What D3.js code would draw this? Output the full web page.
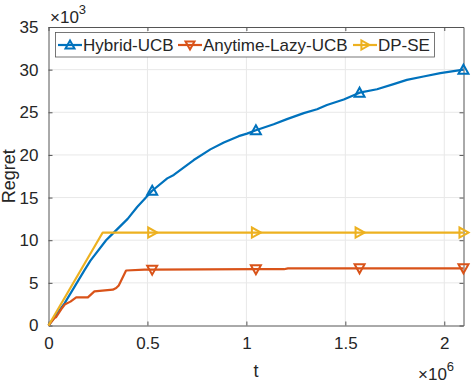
<!DOCTYPE html>
<meta charset="utf-8">
<script src="https://cdn.jsdelivr.net/npm/d3@7"></script>
<style>
  body { margin: 0; background: #fff; }
  text { font-family: "Liberation Sans", Arial, sans-serif; fill: #262626; }
</style>
<svg id="graph" width="472" height="382"></svg>
<script>

// t in units of 1e6, regret in units of 1e3
var tHybrid = [0, 0.081, 0.182, 0.212, 0.291, 0.317, 0.4, 0.448, 0.524, 0.6, 0.633, 0.734, 0.818, 0.886, 0.961, 1.003, 1.048, 1.138, 1.205, 1.29, 1.357, 1.407, 1.492, 1.572, 1.66, 1.744, 1.811, 1.895, 1.98, 2.097];
var rHybrid = [0, 2.6, 6.5, 7.6, 10.0, 10.6, 12.5, 13.9, 15.8, 17.25, 17.65, 19.4, 20.65, 21.45, 22.2, 22.5, 22.9, 23.6, 24.2, 24.9, 25.35, 25.85, 26.5, 27.3, 27.7, 28.3, 28.8, 29.2, 29.6, 30.0];

var tLazy = [0, 0.03, 0.039, 0.064, 0.084, 0.111, 0.14, 0.199, 0.232, 0.325, 0.342, 0.355, 0.392, 0.485, 0.524, 1.048, 1.19, 1.21, 1.572, 2.097];
var rLazy = [0, 0.86, 1.0, 1.9, 2.5, 2.8, 3.3, 3.3, 4.0, 4.2, 4.4, 4.7, 6.45, 6.55, 6.55, 6.6, 6.6, 6.7, 6.7, 6.7];

var tDPSE = [0, 0.274, 0.524, 1.048, 1.572, 2.097];
var rDPSE = [0, 10.9, 10.9, 10.9, 10.9, 10.9];

var markerT = [0.524, 1.048, 1.572, 2.097];

var names = ["Hybrid-UCB", "Anytime-Lazy-UCB", "DP-SE"];
var colors = ["#0072BD", "#D95319", "#EDB120"];
var shapes = ["up", "down", "right"];

var xTicks = [0, 0.5, 1, 1.5, 2];
var yTicks = [0, 5, 10, 15, 20, 25, 30, 35];

var series = [
  {name: names[0], t: tHybrid, r: rHybrid},
  {name: names[1], t: tLazy, r: rLazy},
  {name: names[2], t: tDPSE, r: rDPSE}
];

var svg = d3.select("#graph");
var pL = 48.5, pR = 463.5, pT = 27, pB = 325.5;

var x = d3.scaleLinear().domain([0, 2.097152]).range([pL, pR]);
var y = d3.scaleLinear().domain([0, 35]).range([pB, pT]);

// grid
svg.append("g").selectAll("line").data(xTicks.slice(1)).enter().append("line")
  .attr("x1", function(d) { return x(d); }).attr("x2", function(d) { return x(d); })
  .attr("y1", pT).attr("y2", pB)
  .attr("stroke", "#e8e8e8").attr("stroke-width", 1);
svg.append("g").selectAll("line").data(yTicks.slice(1, -1)).enter().append("line")
  .attr("y1", function(d) { return y(d); }).attr("y2", function(d) { return y(d); })
  .attr("x1", pL).attr("x2", pR)
  .attr("stroke", "#e8e8e8").attr("stroke-width", 1);

// axes (box with inward ticks)
var axB = svg.append("g").attr("transform", "translate(0," + pB + ")")
  .call(d3.axisBottom(x).tickValues(xTicks).tickSizeInner(-4).tickSizeOuter(0).tickPadding(11)
    .tickFormat(function(d) { return d; }));
var axT = svg.append("g").attr("transform", "translate(0," + pT + ")")
  .call(d3.axisTop(x).tickValues(xTicks).tickSizeInner(-4).tickSizeOuter(0).tickFormat(""));
var axL = svg.append("g").attr("transform", "translate(" + pL + ",0)")
  .call(d3.axisLeft(y).tickValues(yTicks).tickSizeInner(-4).tickSizeOuter(0).tickPadding(10));
var axR = svg.append("g").attr("transform", "translate(" + pR + ",0)")
  .call(d3.axisRight(y).tickValues(yTicks).tickSizeInner(-4).tickSizeOuter(0).tickFormat(""));

[axB, axT, axL, axR].forEach(function(a) {
  a.select(".domain").attr("stroke", "#555").attr("stroke-width", 1);
  a.selectAll(".tick line").attr("stroke", "#555");
  a.selectAll("text").attr("font-size", "17px").attr("fill", "#262626")
    .attr("font-family", "Liberation Sans, Arial, sans-serif");
});

// lines
var line = d3.line()
  .x(function(d) { return x(d[0]); })
  .y(function(d) { return y(d[1]); });

function markerPath(shape, s) {
  var h = s * 0.5;
  if (shape == "up") return "M0," + (-h) + "L" + h + "," + (h * 0.8) + "L" + (-h) + "," + (h * 0.8) + "Z";
  if (shape == "down") return "M0," + h + "L" + h + "," + (-h * 0.8) + "L" + (-h) + "," + (-h * 0.8) + "Z";
  return "M" + h + ",0L" + (-h * 0.8) + "," + h + "L" + (-h * 0.8) + "," + (-h) + "Z";
}

series.forEach(function(s, i) {
  var pts = s.t.map(function(t, j) { return [t, s.r[j]]; });
  svg.append("path").datum(pts)
    .attr("d", line)
    .attr("fill", "none")
    .attr("stroke", colors[i])
    .attr("stroke-width", 2.2)
    .attr("stroke-linejoin", "round");
  svg.append("g").selectAll("path")
    .data(pts.filter(function(p) { return markerT.indexOf(p[0]) >= 0; }))
    .enter().append("path")
    .attr("transform", function(d) { return "translate(" + x(d[0]) + "," + y(d[1]) + ")"; })
    .attr("d", markerPath(shapes[i], 10))
    .attr("fill", "none")
    .attr("stroke", colors[i])
    .attr("stroke-width", 2);
});

// exponent labels
var e3 = svg.append("text").attr("x", 50).attr("y", 23).attr("font-size", "17px");
e3.append("tspan").text("\u00d710");
e3.append("tspan").attr("dy", -9).attr("font-size", "13px").text("3");

var e6 = svg.append("text").attr("x", 418).attr("y", 380).attr("font-size", "17px");
e6.append("tspan").text("\u00d710");
e6.append("tspan").attr("dy", -9).attr("font-size", "13px").text("6");

// axis titles
svg.append("text").attr("x", (pL + pR) / 2).attr("y", 377)
  .attr("text-anchor", "middle").attr("font-size", "18px").text("t");
svg.append("text").attr("transform", "translate(15," + ((pT + pB) / 2) + ") rotate(-90)")
  .attr("text-anchor", "middle").attr("font-size", "18px").text("Regret");

// legend
var lg = svg.append("g");
lg.append("rect").attr("x", 55.5).attr("y", 32.5).attr("width", 379).attr("height", 24.5)
  .attr("fill", "#fff").attr("stroke", "#555").attr("stroke-width", 0.8);
var lgX = [58, 178, 353];
names.forEach(function(n, i) {
  var g = lg.append("g").attr("transform", "translate(" + lgX[i] + ",45)");
  g.append("line").attr("x1", 0).attr("x2", 24).attr("stroke", colors[i]).attr("stroke-width", 2.2);
  g.append("path").attr("transform", "translate(12,0)").attr("d", markerPath(shapes[i], 9))
    .attr("fill", "none").attr("stroke", colors[i]).attr("stroke-width", 2);
  g.append("text").attr("x", 25).attr("y", 6).attr("font-size", "17px").text(n);
});

</script>
